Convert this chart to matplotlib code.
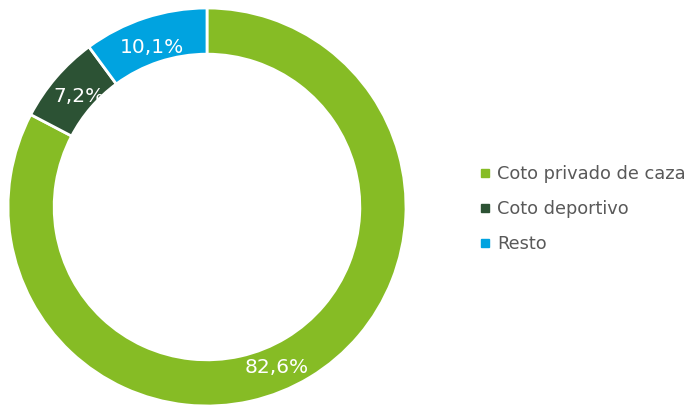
import matplotlib.pyplot as plt
from matplotlib.lines import Line2D
import numpy as np

categories = ['Coto privado de caza', 'Coto deportivo', 'Resto']
shares = [82.6, 7.2, 10.1]
labels = ['82,6%', '7,2%', '10,1%']
colors = ['#86BC25', '#2C5234', '#00A3E0']

W, H = 687, 405
fig = plt.figure(figsize=(W / 100, H / 100), dpi=100)
R = 199
cx, cy = 207, 207
ax = fig.add_axes([(cx - R) / W, (H - cy - R) / H, 2 * R / W, 2 * R / H])

width = 0.232
wedges, _ = ax.pie(shares, colors=colors, startangle=90, counterclock=False,
                   radius=1, wedgeprops=dict(width=width, edgecolor='white', linewidth=2))
ax.set_xlim(-1, 1)
ax.set_ylim(-1, 1)
ax.set_aspect('equal')
ax.axis('off')

# labels in the ring; the big one is nudged a bit like in the original
label_r = [0.877, 0.85, 0.85]
label_shift = [-7.7, 0, 0.8]  # degrees
for w, lab, rr, sh in zip(wedges, labels, label_r, label_shift):
    ang = np.deg2rad((w.theta1 + w.theta2) / 2 + sh)
    ax.text(rr * np.cos(ang), rr * np.sin(ang), lab, ha='center', va='center',
            color='white', fontsize=14.5)

handles = [Line2D([], [], marker='s', linestyle='none', markersize=5.5,
                  markerfacecolor=c, markeredgecolor=c) for c in colors]
fig.legend(handles, categories, loc='center left', bbox_to_anchor=(480 / W, 1 - 209 / H),
           frameon=False, fontsize=12.8, labelcolor='#595959', handlelength=0.6,
           handletextpad=0.35, labelspacing=0.95, borderaxespad=0, borderpad=0)

fig.savefig('out.png', dpi=100)
